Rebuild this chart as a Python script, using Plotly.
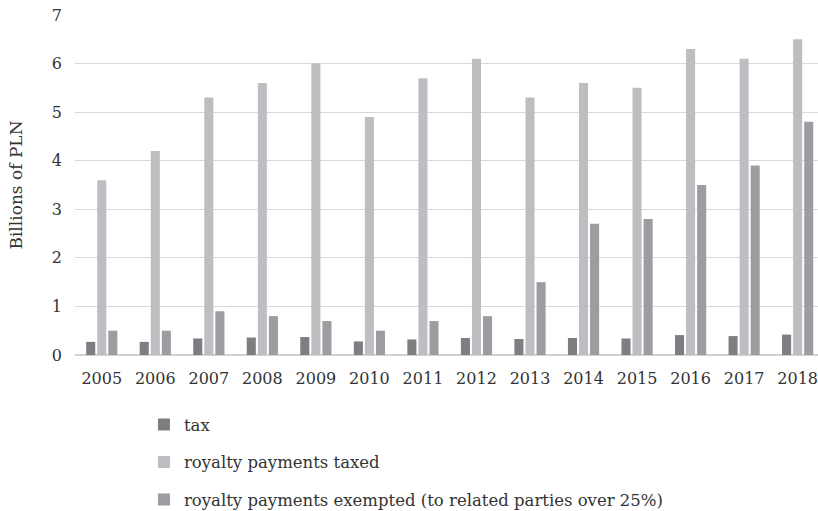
import plotly.graph_objects as go

years = ["2005", "2006", "2007", "2008", "2009", "2010", "2011",
         "2012", "2013", "2014", "2015", "2016", "2017", "2018"]
tax = [0.27, 0.27, 0.34, 0.36, 0.37, 0.28, 0.32,
       0.35, 0.33, 0.35, 0.34, 0.41, 0.39, 0.42]
taxed = [3.6, 4.2, 5.3, 5.6, 6.0, 4.9, 5.7,
         6.1, 5.3, 5.6, 5.5, 6.3, 6.1, 6.5]
exempted = [0.5, 0.5, 0.9, 0.8, 0.7, 0.5, 0.7,
            0.8, 1.5, 2.7, 2.8, 3.5, 3.9, 4.8]
y_ticks = [0, 1, 2, 3, 4, 5, 6, 7]

FONT = "DejaVu Serif"
TEXT = "#333333"

series = [
    ("tax", tax, "#7d7e82"),
    ("royalty payments taxed", taxed, "#bdbec1"),
    ("royalty payments exempted (to related parties over 25%)", exempted, "#9c9da0"),
]

fig = go.Figure()
for i, (name, vals, col) in enumerate(series):
    fig.add_trace(go.Bar(
        x=years, y=vals, name=name, marker_color=col,
        marker_line_width=0, legendgroup=f"g{i}",
    ))

fig.update_layout(
    width=818, height=511,
    margin=dict(l=75, r=0, t=15, b=156, autoexpand=False),
    paper_bgcolor="white", plot_bgcolor="white",
    barmode="group", bargap=0.38, bargroupgap=0.18,
    font=dict(family=FONT, size=16, color=TEXT),
    showlegend=True,
    legend=dict(
        orientation="v", traceorder="grouped", tracegroupgap=13,
        xref="container", yref="container",
        x=0.176, y=0.203, xanchor="left", yanchor="top",
        font=dict(family=FONT, size=16.5, color=TEXT),
        bgcolor="rgba(0,0,0,0)",
    ),
    annotations=[dict(
        text="Billions of PLN", textangle=-90,
        xref="paper", yref="paper", x=-0.08, y=0.5,
        xanchor="center", yanchor="middle", showarrow=False,
        font=dict(family=FONT, size=17, color=TEXT),
    )],
)

fig.update_xaxes(
    type="category", range=[-0.5, 13.38],
    showline=False, showgrid=False, ticks="",
    tickangle=0, ticklabelstandoff=12,
    tickfont=dict(family=FONT, size=16, color=TEXT),
)
fig.update_yaxes(
    range=[0, 7], tickvals=y_ticks,
    showgrid=True, gridcolor="#d9d9d9", gridwidth=1.3,
    zeroline=True, zerolinecolor="#d2d2d2", zerolinewidth=1.5,
    showline=False, ticks="", ticklabelstandoff=12,
    tickfont=dict(family=FONT, size=16, color=TEXT),
)

fig.write_html("out.html")
